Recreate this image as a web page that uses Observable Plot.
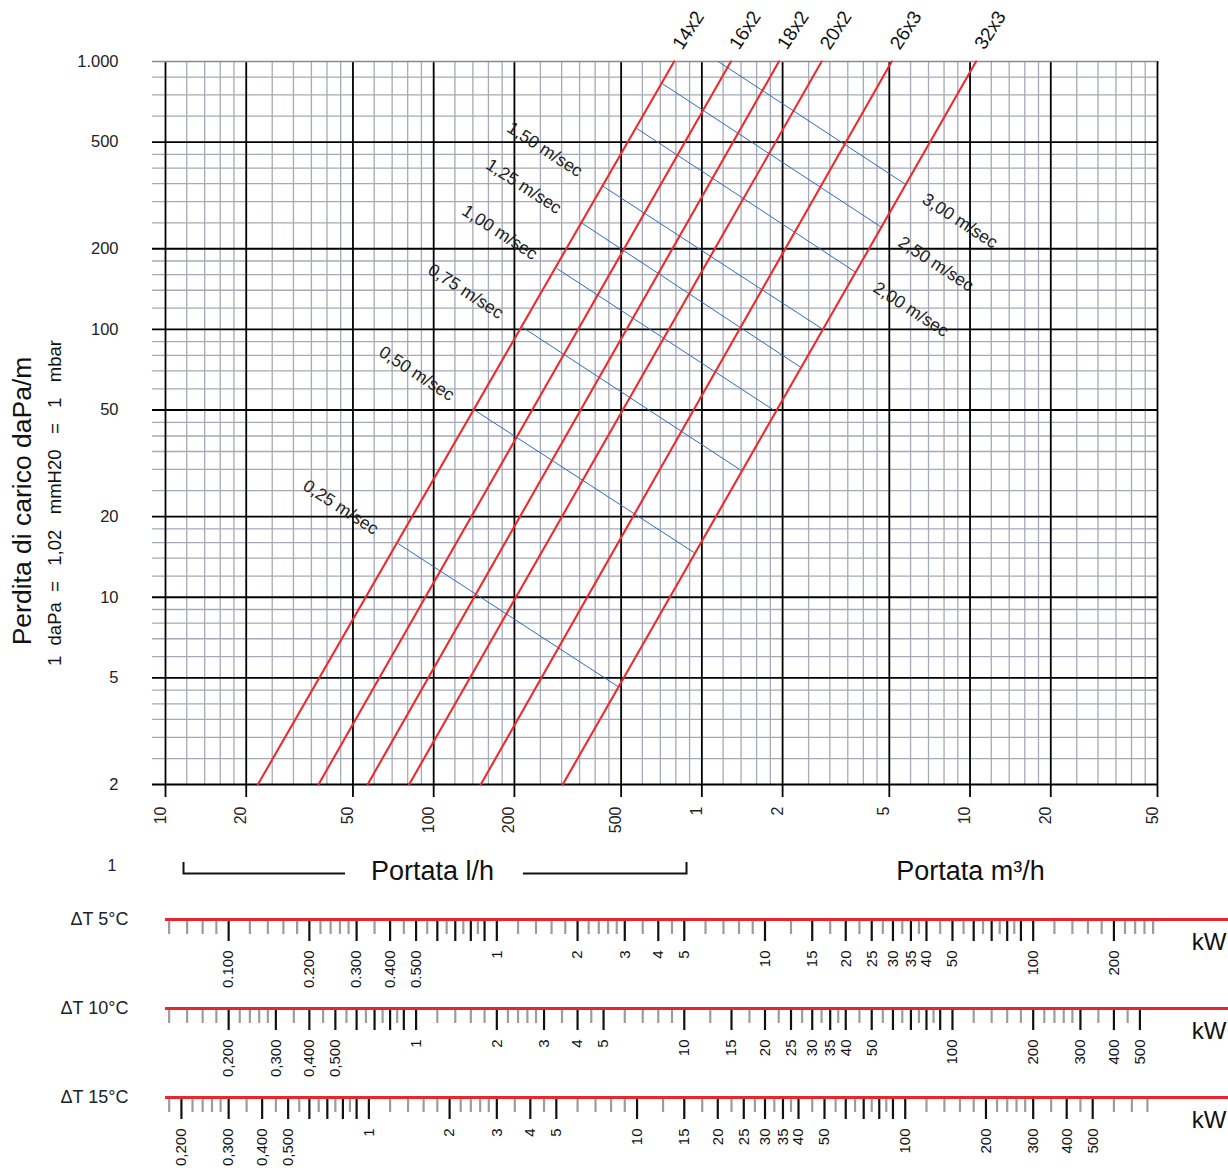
<!DOCTYPE html>
<html><head><meta charset="utf-8">
<script src="https://cdn.jsdelivr.net/npm/d3@7"></script>
<script src="https://cdn.jsdelivr.net/npm/@observablehq/plot@0.6"></script>
<style>
body{margin:0;background:#fff;}
#chart svg{display:block;}
</style></head><body><div id="chart"></div>
<script>
// ---------- data ----------
const pipes = ["14x2","16x2","18x2","20x2","26x3","32x3"];
const pipeDpLow = 2, pipeDpHigh = 1000;                       // daPa/m at line ends
const pipeFlowLow  = [22.1, 37.2, 56.7, 81.0, 149.8, 302.9];   // l/h at 2 daPa/m
const pipeFlowHigh = [788, 1283, 1938, 2796, 5104, 10530];     // l/h at 1000 daPa/m

const velocities = ["0,25","0,50","0,75","1,00","1,25","1,50","2,00","2,50","3,00"];
const velStartFlow = [73.4, 141.0, 214.8, 287.7, 353.7, 423.6, 572.1, 713.6, 1150];
const velStartDp   = [15.9, 50.2, 101.7, 168.9, 250.8, 344.5, 562.3, 825.5, 1000];
const velEndFlow   = [490, 933.5, 1398, 1856, 2341, 2828, 3754, 4655, 5721];
const velEndDp     = [4.62, 14.7, 29.8, 49.9, 72.1, 100, 163.2, 241.3, 349.0];

const xMajor = [10,20,50,100,200,500,1000,2000,5000,10000,20000,50000];
const xMajorLabels = ["10","20","50","100","200","500","1","2","5","10","20","50"];
const xMinor = [12,14,16,18,25,30,35,40,45,60,70,80,90,120,140,160,180,250,300,350,400,450,
  600,700,800,900,1200,1400,1600,1800,2500,3000,3500,4000,4500,6000,7000,8000,9000,
  12000,14000,16000,18000,25000,30000,35000,40000,45000];
const yMajor = [2,5,10,20,50,100,200,500,1000];
const yMajorLabels = ["2","5","10","20","50","100","200","500","1.000"];
const yMinor = [2.5,3,3.5,4,4.5,6,7,8,9,12,14,16,18,25,30,35,40,45,60,70,80,90,
  120,140,160,180,250,300,350,400,450,625,750,875];

// kW scales
const dt5Major = [0.1,0.2,0.3,0.4,0.5,0.6,0.7,0.8,0.9,1,2,3,4,5,10,15,20,25,30,35,40,50,60,70,80,90,100,200];
const dt5Minor = [0.06,0.07,0.08,0.09,0.12,0.14,0.16,0.18,0.22,0.24,0.26,0.28,0.35,0.45,0.55,0.65,0.75,0.85,
  1.2,1.4,1.6,1.8,2.2,2.4,2.6,2.8,3.5,4.5,6,7,8,9,12.5,17.5,22.5,27.5,32.5,37.5,45,55,65,75,85,
  120,140,160,180,220,240,260,280];
const dt5LabelVals = [0.1,0.2,0.3,0.4,0.5,1,2,3,4,5,10,15,20,25,30,35,40,50,100,200];
const dt5Labels = ["0.100","0.200","0.300","0.400","0.500","1","2","3","4","5","10","15","20","25","30","35","40","50","100","200"];

const dt10Major = [0.2,0.3,0.4,0.5,0.6,0.7,0.8,0.9,1,2,3,4,5,10,15,20,25,30,35,40,50,60,70,80,90,100,200,300,400,500];
const dt10Minor = [0.12,0.14,0.16,0.18,0.22,0.24,0.26,0.28,0.35,0.45,0.55,0.65,0.75,0.85,
  1.2,1.4,1.6,1.8,2.2,2.4,2.6,2.8,3.5,4.5,6,7,8,9,12.5,17.5,22.5,27.5,32.5,37.5,45,55,65,75,85,
  120,140,160,180,220,240,260,280,350,450];
const dt10LabelVals = [0.2,0.3,0.4,0.5,1,2,3,4,5,10,15,20,25,30,35,40,50,100,200,300,400,500];
const dt10Labels = ["0,200","0,300","0,400","0,500","1","2","3","4","5","10","15","20","25","30","35","40","50","100","200","300","400","500"];

const dt15Major = [0.2,0.3,0.4,0.5,0.6,0.7,0.8,0.9,1,2,3,4,5,10,15,20,25,30,35,40,50,60,70,80,90,100,200,300,400,500];
const dt15Minor = [0.18,0.22,0.24,0.26,0.28,0.35,0.45,0.55,0.65,0.75,0.85,
  1.2,1.4,1.6,1.8,2.2,2.4,2.6,2.8,3.5,4.5,6,7,8,9,12.5,17.5,22.5,27.5,32.5,37.5,45,55,65,75,85,
  120,140,160,180,220,240,260,280,350,450,600,700,800];
const dt15LabelVals = dt10LabelVals;
const dt15Labels = dt10Labels;

// ---------- chart ----------
const FONT = "'Liberation Sans', Arial, Helvetica, sans-serif";
const GRID = "#a6a9b6";
const RED = "#ee2a2a";
const xDomain = [10, 50000];

const pipeRows = pipes.flatMap((p, i) => [
  {pipe: p, q: pipeFlowLow[i], dp: pipeDpLow},
  {pipe: p, q: pipeFlowHigh[i], dp: pipeDpHigh}
]);
const velIdx = d3.range(velocities.length);
const velBefore = velIdx.filter(i => velStartFlow[i] < 500);
const velAfter = velIdx.filter(i => velStartFlow[i] >= 500);

const main = Plot.plot({
  width: 1228, height: 900,
  marginLeft: 165, marginRight: 71, marginTop: 61, marginBottom: 116,
  style: {fontFamily: FONT, background: "#fff", color: "#111"},
  x: {type: "log", domain: xDomain, axis: null},
  y: {type: "log", domain: [2, 1000], axis: null},
  marks: [
    Plot.ruleX(xMinor, {stroke: GRID, strokeWidth: 1.3}),
    Plot.ruleY(yMinor, {stroke: GRID, strokeWidth: 1.3, insetLeft: -13}),
    Plot.ruleX(xMajor, {stroke: "#000", strokeWidth: 1.8, insetBottom: -13}),
    Plot.ruleY(yMajor.slice(0, -1), {stroke: "#000", strokeWidth: 1.8, insetLeft: -13}),
    Plot.ruleY([1000], {stroke: "#8a8a8a", strokeWidth: 1.6, insetLeft: -13}),
    Plot.link(velIdx, {
      x1: i => velStartFlow[i], y1: i => velStartDp[i],
      x2: i => velEndFlow[i], y2: i => velEndDp[i],
      stroke: "#2e6cc0", strokeWidth: 1
    }),
    Plot.line(pipeRows, {x: "q", y: "dp", z: "pipe", stroke: RED, strokeWidth: 2.1}),
    Plot.text(pipes, {
      x: (d, i) => pipeFlowHigh[i], y: () => pipeDpHigh, text: d => d,
      rotate: -57, textAnchor: "start", dx: 3, dy: -14, fontSize: 19, fill: "#111"
    }),
    Plot.text(velBefore, {
      x: i => velStartFlow[i], y: i => velStartDp[i], text: i => velocities[i] + " m/sec",
      rotate: 33, textAnchor: "middle", dx: -57, dy: -36, fontSize: 17.5, fill: "#222"
    }),
    Plot.text(velAfter, {
      x: i => velEndFlow[i], y: i => velEndDp[i], text: i => velocities[i] + " m/sec",
      rotate: 33, textAnchor: "middle", dx: 55, dy: 37, fontSize: 17.5, fill: "#222"
    }),
    Plot.text(yMajor, {
      y: d => d, text: (d, i) => yMajorLabels[i], frameAnchor: "left",
      dx: -47, textAnchor: "end", fontSize: 16.5, letterSpacing: 0.6, fill: "#222"
    }),
    Plot.text(xMajor, {
      x: d => d, text: (d, i) => xMajorLabels[i], frameAnchor: "bottom",
      dy: 22, rotate: -90, textAnchor: "end", fontSize: 16, letterSpacing: 0.8, fill: "#222"
    }),
    Plot.text(["Perdita di carico daPa/m"], {
      frameAnchor: "left", dx: -143, dy: 78, rotate: -90, textAnchor: "middle", fontSize: 26.5, fill: "#111"
    }),
    Plot.text(["1\u00a0\u00a0daPa\u00a0\u00a0=\u00a0\u00a0\u00a01,02\u00a0\u00a0\u00a0mmH20\u00a0\u00a0\u00a0=\u00a0\u00a0\u00a01\u00a0\u00a0\u00a0mbar"], {
      frameAnchor: "left", dx: -110, dy: 80, rotate: -90, textAnchor: "middle", fontSize: 18.5, fill: "#111"
    }),
    Plot.text(["1"], {frameAnchor: "bottom-left", dx: -58, dy: 86, fontSize: 16, fill: "#222"}),
    Plot.text(["Portata l/h"], {frameAnchor: "bottom-left", dx: 267, dy: 95, textAnchor: "middle", fontSize: 27, fill: "#111"}),
    Plot.text(["Portata m\u00b3/h"], {frameAnchor: "bottom-left", dx: 805, dy: 95, textAnchor: "middle", fontSize: 27, fill: "#111"})
  ]
});

// bracket under "Portata l/h"
d3.select(main).append("path")
  .attr("d", "M183.5,862 V873.5 H345 M523,873.5 H686.5 V862")
  .attr("fill", "none").attr("stroke", "#111").attr("stroke-width", 2);

function kwRow(dt, major, minor, labelVals, labels) {
  const kwPerLh = dt * 1.163 / 1000;
  return Plot.plot({
    width: 1228, height: 89,
    marginLeft: 165, marginRight: 71, marginTop: 19, marginBottom: 0,
    style: {fontFamily: FONT, background: "#fff", color: "#111", overflow: "visible"},
    x: {type: "log", domain: xDomain.map(q => q * kwPerLh), axis: null},
    y: {domain: [0, 70], range: [19, 89], axis: null},
    marks: [
      Plot.ruleX(minor, {x: d => d, y1: () => 1.5, y2: () => 15, stroke: "#9c9c9c", strokeWidth: 2.2}),
      Plot.ruleX(major, {x: d => d, y1: () => 1.5, y2: () => 22, stroke: "#111", strokeWidth: 2.2}),
      Plot.ruleY([0], {y: d => d, stroke: "#e8262b", strokeWidth: 3, insetRight: -71}),
      Plot.text(labelVals, {
        x: d => d, y: () => 31, text: (d, i) => labels[i], rotate: -90,
        textAnchor: "end", fontSize: 15, letterSpacing: 0.8, fill: "#111"
      }),
      Plot.text(["\u0394T " + dt + "\u00b0C"], {y: () => 0, frameAnchor: "left", dx: -37, textAnchor: "end", fontSize: 18, fill: "#222"}),
      Plot.text(["kW"], {y: () => 23, frameAnchor: "right", dx: 69, textAnchor: "end", fontSize: 24, fill: "#111"})
    ]
  });
}

const chart = document.getElementById("chart");
chart.append(main);
chart.append(kwRow(5, dt5Major, dt5Minor, dt5LabelVals, dt5Labels));
chart.append(kwRow(10, dt10Major, dt10Minor, dt10LabelVals, dt10Labels));
chart.append(kwRow(15, dt15Major, dt15Minor, dt15LabelVals, dt15Labels));
</script></body></html>
